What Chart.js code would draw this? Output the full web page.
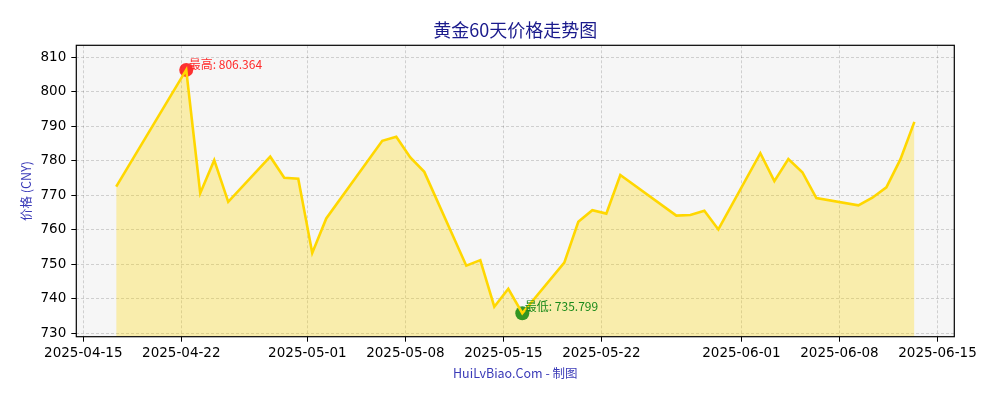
<!DOCTYPE html>
<html>
<head>
<meta charset="utf-8">
<script src="https://cdn.jsdelivr.net/npm/chart.js@4.4.1/dist/chart.umd.min.js"></script>
<style>
  html, body { margin: 0; padding: 0; background: #ffffff; }
  #wrap { width: 1000px; height: 400px; position: relative; }
</style>
</head>
<body>
<div id="wrap"><canvas id="c" width="1000" height="400"></canvas></div>
<script>
// ---- data ----
const dates = [
  '2025-04-17','2025-04-22','2025-04-23','2025-04-24','2025-04-25',
  '2025-04-28','2025-04-29','2025-04-30','2025-05-01','2025-05-02',
  '2025-05-06','2025-05-07','2025-05-08','2025-05-09','2025-05-12',
  '2025-05-13','2025-05-14','2025-05-15','2025-05-16','2025-05-19',
  '2025-05-20','2025-05-21','2025-05-22','2025-05-23','2025-05-27',
  '2025-05-28','2025-05-29','2025-05-30','2025-06-02','2025-06-03',
  '2025-06-04','2025-06-05','2025-06-06','2025-06-09','2025-06-10',
  '2025-06-11','2025-06-12','2025-06-13'
];
const prices = [
  772.5, 806.364, 770.6, 780.2, 768.1,
  781.2, 775.1, 774.8, 753.3, 763.3,
  785.8, 787.0, 781.0, 776.8, 749.6,
  751.2, 737.7, 742.9, 735.799, 750.5,
  762.3, 765.7, 764.7, 775.9, 764.1,
  764.3, 765.5, 760.1, 782.2, 774.1,
  780.5, 776.7, 769.2, 767.1, 769.3,
  772.3, 780.4, 791.3
];
const xTickDates = ['2025-04-15','2025-04-22','2025-05-01','2025-05-08','2025-05-15','2025-05-22','2025-06-01','2025-06-08','2025-06-15'];
const yTickValues = [730, 740, 750, 760, 770, 780, 790, 800, 810];
const titleText = '黄金60天价格走势图';
const yLabelText = '价格 (CNY)';
const footerText = 'HuiLvBiao.Com - 制图';
const highLabel = '最高';
const lowLabel = '最低';
const sampleTimeOfDay = 0.35; // fraction of a day of each quote's timestamp

// ---- helpers ----
const BASE = Date.UTC(2025, 3, 15);
function dayNum(s) { return (Date.parse(s + 'T00:00:00Z') - BASE) / 86400000; }
function fmtDay(v) {
  const d = new Date(BASE + Math.round(v) * 86400000);
  const mm = String(d.getUTCMonth() + 1).padStart(2, '0');
  const dd = String(d.getUTCDate()).padStart(2, '0');
  return d.getUTCFullYear() + '-' + mm + '-' + dd;
}

const points = dates.map((d, i) => ({ x: dayNum(d) + sampleTimeOfDay, y: prices[i] }));
let iMax = 0, iMin = 0;
prices.forEach((p, i) => { if (p > prices[iMax]) iMax = i; if (p < prices[iMin]) iMin = i; });
const xFirst = points[0].x, xLast = points[points.length - 1].x;
const xPad = (xLast - xFirst) * 0.05;
const xTicks = xTickDates.map(dayNum);

// plot box in the reference
const PLOT = { left: 76.3, right: 954.3, top: 45.3, bottom: 336.7 };

const decor = {
  id: 'decor',
  beforeDraw(chart) {
    const { ctx, chartArea: a } = chart;
    ctx.save();
    ctx.fillStyle = '#ffffff';
    ctx.fillRect(0, 0, chart.width, chart.height);
    ctx.fillStyle = '#f6f6f6';
    ctx.fillRect(a.left, a.top, a.right - a.left, a.bottom - a.top);
    ctx.restore();
  },
  afterDatasetsDraw(chart) {
    const { ctx } = chart;
    const meta = chart.getDatasetMeta(1);
    const hi = meta.data[0], lo = meta.data[1];
    ctx.save();
    ctx.font = '12px "Noto Sans CJK SC", "DejaVu Sans", sans-serif';
    ctx.textAlign = 'left';
    ctx.textBaseline = 'alphabetic';
    ctx.fillStyle = '#ff2a2a';
    ctx.fillText(highLabel + ': ' + prices[iMax].toFixed(3), hi.x + 2.5, hi.y - 1);
    ctx.fillStyle = '#1a8a1a';
    ctx.fillText(lowLabel + ': ' + prices[iMin].toFixed(3), lo.x + 2.5, lo.y - 2);
    ctx.restore();
  },
  afterDraw(chart) {
    const { ctx, chartArea: a } = chart;
    ctx.save();
    ctx.strokeStyle = '#000000';
    ctx.lineWidth = 1.2;
    ctx.strokeRect(a.left, a.top, a.right - a.left, a.bottom - a.top);
    const cx = (a.left + a.right) / 2;
    ctx.textAlign = 'center';
    ctx.textBaseline = 'middle';
    ctx.fillStyle = '#1a1a8c';
    ctx.font = '18px "Noto Sans CJK SC", sans-serif';
    ctx.fillText(titleText, cx, 30.5);
    ctx.fillStyle = '#3b3bb8';
    ctx.font = '12.5px "Noto Sans CJK SC", "DejaVu Sans", sans-serif';
    ctx.fillText(footerText, cx, 373.5);
    ctx.translate(26.5, (a.top + a.bottom) / 2);
    ctx.rotate(-Math.PI / 2);
    ctx.fillStyle = '#3b3bb8';
    ctx.font = '12.5px "Noto Sans CJK SC", "DejaVu Sans", sans-serif';
    ctx.fillText(yLabelText, 0, 0);
    ctx.restore();
  }
};

const gridCommon = {
  color: 'rgba(0,0,0,0.2)',
  lineWidth: 0.8,
  drawTicks: true,
  tickLength: 5,
  tickColor: '#000000',
  tickWidth: 1,
  tickBorderDash: []
};
const borderCommon = { display: false, dash: [3, 2] };

new Chart(document.getElementById('c'), {
  type: 'line',
  data: {
    datasets: [
      {
        data: points,
        borderColor: '#FFD700',
        borderWidth: 2.6,
        backgroundColor: 'rgba(255,215,0,0.3)',
        fill: 'start',
        tension: 0,
        pointRadius: 0,
        borderJoinStyle: 'miter'
      },
      {
        data: [points[iMax], points[iMin]],
        showLine: false,
        fill: false,
        pointRadius: 7,
        pointBorderWidth: 0,
        pointBackgroundColor: ['rgba(255,0,0,0.8)', 'rgba(0,128,0,0.8)'],
        pointBorderColor: 'rgba(0,0,0,0)'
      }
    ]
  },
  options: {
    responsive: false,
    devicePixelRatio: 1,
    animation: false,
    events: [],
    layout: { padding: { top: PLOT.top, right: 1000 - PLOT.right, left: 0, bottom: 0 } },
    plugins: {
      legend: { display: false },
      tooltip: { enabled: false },
      filler: { drawTime: 'beforeDatasetsDraw' }
    },
    scales: {
      x: {
        type: 'linear',
        min: xFirst - xPad,
        max: xLast + xPad,
        afterFit(s) { s.height = 400 - PLOT.bottom; },
        afterBuildTicks(s) { s.ticks = xTicks.map(v => ({ value: v })); },
        grid: gridCommon,
        border: borderCommon,
        ticks: {
          autoSkip: false,
          maxRotation: 0,
          minRotation: 0,
          padding: 4,
          color: '#000000',
          font: { family: 'DejaVu Sans', size: 13.5 },
          callback: v => fmtDay(v)
        }
      },
      y: {
        type: 'linear',
        min: 729.0,
        max: 813.5,
        afterFit(s) { s.width = PLOT.left; },
        afterBuildTicks(s) { s.ticks = yTickValues.map(v => ({ value: v })); },
        grid: gridCommon,
        border: borderCommon,
        ticks: {
          padding: 5,
          color: '#000000',
          font: { family: 'DejaVu Sans', size: 13.5 },
          callback: v => String(v)
        }
      }
    }
  },
  plugins: [decor]
});
</script>
</body>
</html>
